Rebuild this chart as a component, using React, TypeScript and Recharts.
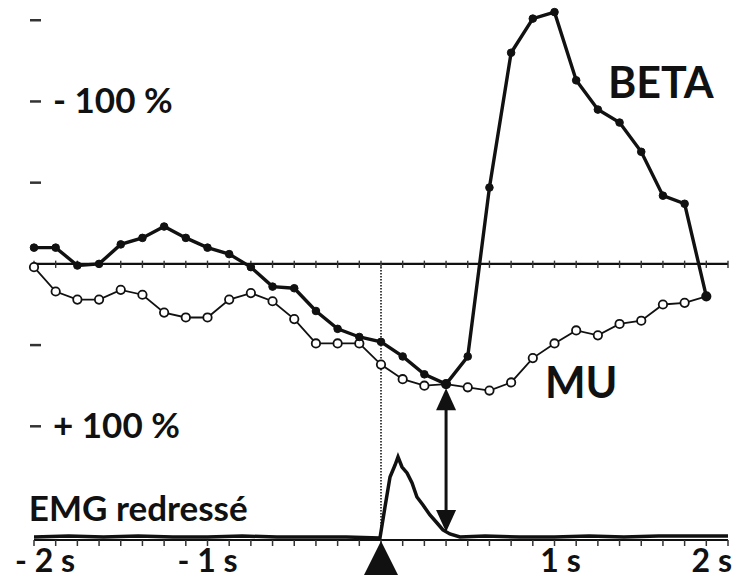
import React from "react";
import {
  ComposedChart,
  Line,
  XAxis,
  YAxis,
  ReferenceLine,
  ReferenceDot,
} from "recharts";

// time of each ERD/ERS sample (s), 1/8 s apart, movement onset at 0
const times = [
  -2, -1.875, -1.75, -1.625, -1.5, -1.375, -1.25, -1.125, -1, -0.875, -0.75,
  -0.625, -0.5, -0.375, -0.25, -0.125, 0, 0.125, 0.25, 0.375, 0.5, 0.625, 0.75,
  0.875, 1, 1.125, 1.25, 1.375, 1.5, 1.625, 1.75, 1.875,
];

// % change of power (negative is drawn upward)
const beta = [
  -10, -10, 1, 0, -12, -16, -23, -16, -10, -6, 2, 14, 15, 29, 40, 45, 48, 57,
  68, 74, 57, -47, -130, -151, -155, -113, -95, -87, -69, -42, -37, 20,
];
const mu = [
  2, 17, 22, 22, 16, 19, 30, 33, 33, 22, 18, 23, 34, 49, 49, 49, 62, 71, 75,
  74, 76, 78, 73, 58, 49, 41, 44, 37, 35, 25, 24, 20,
];

// rectified EMG trace (arbitrary units)
const emgTimes = [
  -2, -1.8, -1.6, -1.4, -1.2, -1, -0.8, -0.6, -0.4, -0.2, -0.006, 0.023, 0.052,
  0.081, 0.098, 0.121, 0.15, 0.179, 0.207, 0.242, 0.282, 0.323, 0.357, 0.397,
  0.455, 0.6, 0.8, 1, 1.2, 1.4, 1.6, 1.8, 2,
];
const emgValues = [
  1, 2, 1, 2, 1, 1, 2, 1, 1, 1, 0, 31, 61, 73, 81, 71, 65, 55, 41, 33, 23, 15,
  8, 4, 1, 2, 1, 1, 2, 1, 2, 2, 2,
];

const xTicks = [
  -2, -1.875, -1.75, -1.625, -1.5, -1.375, -1.25, -1.125, -1, -0.875, -0.75,
  -0.625, -0.5, -0.375, -0.25, -0.125, 0, 0.125, 0.25, 0.375, 0.5, 0.625, 0.75,
  0.875, 1, 1.125, 1.25, 1.375, 1.5, 1.625, 1.75, 1.875, 2,
];
const xLabels: Record<string, string> = {
  "-2": "- 2 s",
  "-1": "- 1 s",
  "1": "1 s",
  "2": "2 s",
};
const yTicks = [-150, -100, -50, 50, 100];
const yLabels: Record<string, string> = { "-100": "- 100 %", "100": "+ 100 %" };

const data = times.map((t, i) => ({ t, beta: beta[i], mu: mu[i] }));
const emg = emgTimes.map((t, i) => ({ t, emg: emgValues[i] }));

const FONT = "Lato, 'Open Sans', sans-serif";
const INK = "#111";
const PLOT_LEFT = 34;

const labelShift: Record<string, { dx: number; anchor: string }> = {
  "-2": { dx: -19, anchor: "start" },
  "-1": { dx: 0, anchor: "middle" },
  "1": { dx: 6, anchor: "middle" },
  "2": { dx: 4, anchor: "end" },
};

const TimeTick = ({ x, y, payload }: any) => {
  const key = String(payload.value);
  if (payload.value === 0) {
    return (
      <path
        d={`M${x},${y - 7} L${x - 17},${y + 27} L${x + 17},${y + 27} Z`}
        fill={INK}
      />
    );
  }
  const label = xLabels[key];
  if (!label) return null;
  const s = labelShift[key];
  return (
    <text
      x={x + s.dx}
      y={y + 24}
      textAnchor={s.anchor}
      fontFamily={FONT}
      fontWeight={700}
      fontSize={32}
      fill={INK}
    >
      {label}
    </text>
  );
};

const PctTick = ({ y, payload }: any) => {
  const label = yLabels[String(payload.value)];
  const x = PLOT_LEFT;
  return (
    <g>
      <line x1={x - 4} x2={x + 7} y1={y} y2={y} stroke="#333" strokeWidth={2.5} />
      {label && (
        <text
          x={x + 19}
          y={y - 1}
          dy="0.36em"
          textAnchor="start"
          fontFamily={FONT}
          fontWeight={700}
          fontSize={35}
          fill={INK}
        >
          {label}
        </text>
      )}
    </g>
  );
};

const textShape =
  (txt: string, size: number) =>
  ({ cx, cy }: any) =>
    (
      <text
        x={cx}
        y={cy}
        fontFamily={FONT}
        fontWeight={700}
        fontSize={size}
        fill={INK}
      >
        {txt}
      </text>
    );

const arrowHead =
  (up: boolean) =>
  ({ cx, cy }: any) => {
    const h = up ? 22 : -22;
    return (
      <path
        d={`M${cx},${cy} L${cx - 10},${cy + h} L${cx + 10},${cy + h} Z`}
        fill={INK}
      />
    );
  };

export default function App() {
  return (
    <div style={{ position: "absolute", left: 0, top: 0, background: "#fff" }}>
      <ComposedChart
        width={733}
        height={580}
        data={data}
        margin={{ top: 4, right: 5, bottom: 10, left: 0 }}
      >
        <XAxis
          type="number"
          dataKey="t"
          domain={[-2, 2]}
          ticks={xTicks}
          interval={0}
          height={30}
          tickSize={6}
          tickMargin={2}
          axisLine={{ stroke: INK, strokeWidth: 2 }}
          tickLine={{ stroke: "#333", strokeWidth: 1.5 }}
          tick={<TimeTick />}
        />
        <YAxis
          yAxisId="pct"
          type="number"
          reversed
          domain={[-160, 170]}
          ticks={yTicks}
          interval={0}
          width={34}
          tickSize={0}
          tickMargin={0}
          axisLine={false}
          tickLine={false}
          tick={<PctTick />}
        />
        <YAxis yAxisId="emg" type="number" domain={[-2, 534]} hide />

        <ReferenceLine yAxisId="pct" y={0} stroke={INK} strokeWidth={2.3} />
        {xTicks.map((t) => (
          <ReferenceLine
            key={t}
            yAxisId="pct"
            segment={[
              { x: t, y: -2 },
              { x: t, y: 2.5 },
            ]}
            stroke="#333"
            strokeWidth={1.4}
          />
        ))}
        <ReferenceLine
          yAxisId="pct"
          segment={[
            { x: 0, y: 0 },
            { x: 0, y: 168 },
          ]}
          stroke="#444"
          strokeWidth={2}
          strokeDasharray="1.5 1.5"
        />

        <Line
          yAxisId="emg"
          data={emg}
          dataKey="emg"
          type="linear"
          stroke={INK}
          strokeWidth={3.5}
          dot={false}
          isAnimationActive={false}
        />
        <Line
          yAxisId="pct"
          dataKey="mu"
          type="linear"
          stroke={INK}
          strokeWidth={1.8}
          dot={{ r: 4.2, fill: "#fff", stroke: INK, strokeWidth: 1.8 }}
          isAnimationActive={false}
        />
        <Line
          yAxisId="pct"
          dataKey="beta"
          type="linear"
          stroke={INK}
          strokeWidth={3.4}
          dot={{ r: 3.8, fill: INK, stroke: INK, strokeWidth: 1 }}
          isAnimationActive={false}
        />

        <ReferenceLine
          yAxisId="pct"
          segment={[
            { x: 0.375, y: 85 },
            { x: 0.375, y: 156 },
          ]}
          stroke={INK}
          strokeWidth={3}
        />
        <ReferenceDot yAxisId="pct" x={0.375} y={76.5} r={0} shape={arrowHead(true)} />
        <ReferenceDot yAxisId="pct" x={0.375} y={165} r={0} shape={arrowHead(false)} />

        <ReferenceDot
          yAxisId="pct"
          x={1.308}
          y={-102}
          r={0}
          ifOverflow="visible"
          shape={textShape("BETA", 43)}
        />
        <ReferenceDot
          yAxisId="pct"
          x={0.945}
          y={82.5}
          r={0}
          ifOverflow="visible"
          shape={textShape("MU", 43)}
        />
        <ReferenceDot
          yAxisId="pct"
          x={-2.03}
          y={158}
          r={0}
          ifOverflow="visible"
          shape={textShape("EMG redressé", 35)}
        />
      </ComposedChart>
    </div>
  );
}
